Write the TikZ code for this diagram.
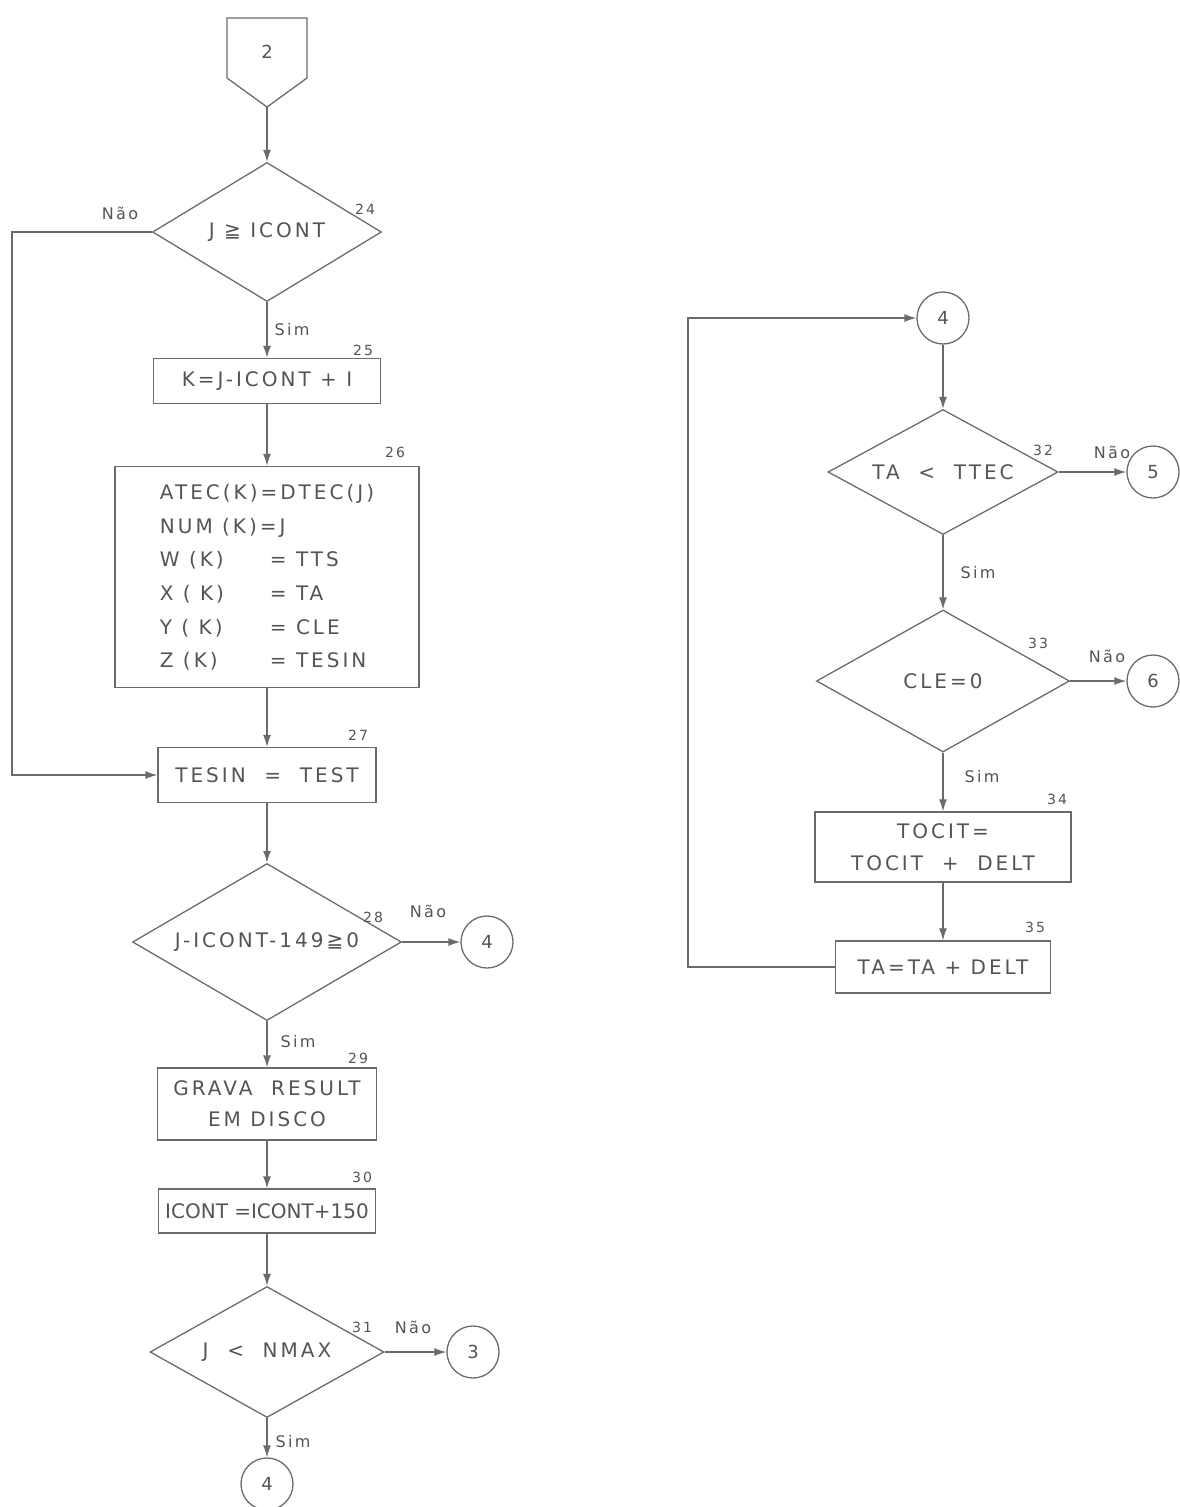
\documentclass[tikz,border=0pt]{standalone}
\usepackage{fontspec}
\setmainfont{DejaVu Sans}[LetterSpace=15]
\newfontfamily\tightfont{DejaVu Sans}
\usetikzlibrary{shapes.geometric,arrows.meta}
\definecolor{inkline}{gray}{0.42}
\definecolor{inktext}{gray}{0.33}

\tikzset{
  flow/.style={-{Latex[length=12pt,width=8pt]}},
  decision/.style={diamond, draw=inkline, aspect=1.7, inner sep=0pt, font=\fontsize{20}{24}\selectfont},
  process/.style={rectangle, draw=inkline, inner sep=0pt, font=\fontsize{20}{24}\selectfont},
  connector/.style={circle, draw=inkline, minimum size=52pt, inner sep=0pt, font=\fontsize{18}{20}\selectfont},
  stepno/.style={font=\fontsize{14}{16}\selectfont},
  answer/.style={font=\fontsize{16}{18}\selectfont}
}

\begin{document}
\begin{tikzpicture}[x=1pt, y=-1pt, line width=1.3pt, color=inkline, text=inktext]
    \useasboundingbox (0,0) rectangle (1179,1507);
    % Entry from page 2
    \draw (227,18) -- (307,18) -- (307,78) -- (267,107) -- (227,78) -- cycle;
    \node[font=\fontsize{18}{20}\selectfont] (con2) at (267,52) {2};
    \coordinate (con2tip) at (267,107);
    % Left column
    \node[decision, minimum width=229pt, minimum height=139pt] (d24) at (267,232) {J ≧ ICONT};
    \node[process, minimum width=227pt, minimum height=45pt] (b25) at (267,381) {K=J-ICONT + I};
    \node[process, minimum width=304pt, minimum height=221pt] (b26) at (267,577) {%
      \renewcommand{\arraystretch}{1.4}%
      \begin{tabular}{@{}p{110pt}@{}l@{}}
        \multicolumn{2}{@{}l@{}}{ATEC(K)=DTEC(J)}\\
        \multicolumn{2}{@{}l@{}}{NUM (K)=J}\\
        W (K) & = TTS\\
        X ( K) & = TA\\
        Y ( K) & = CLE\\
        Z (K) & = TESIN
      \end{tabular}};
    \node[process, minimum width=218pt, minimum height=55pt] (b27) at (267,775) {TESIN ~= ~TEST};
    \node[decision, minimum width=269pt, minimum height=157pt] (d28) at (267,942) {J-ICONT-149≧0};
    \node[process, minimum width=219pt, minimum height=72pt, align=center] (b29) at (267,1104) {GRAVA ~RESULT\\[7pt]EM DISCO};
    \node[process, minimum width=217pt, minimum height=44pt] (b30) at (267,1211) {\tightfont ICONT =ICONT+150};
    \node[decision, minimum width=234pt, minimum height=131pt] (d31) at (267,1352) {J ~<~ NMAX};
    \node[connector] (c4a) at (487,942) {4};
    \node[connector] (c3) at (473,1352) {3};
    \node[connector] (c4b) at (267,1484) {4};
    % Right column
    \node[connector] (c4r) at (943,318) {4};
    \node[decision, minimum width=230pt, minimum height=125pt] (d32) at (943,472) {TA ~<~ TTEC};
    \node[decision, minimum width=253pt, minimum height=142pt] (d33) at (943,681) {CLE=0};
    \node[process, minimum width=256pt, minimum height=70pt, align=center] (b34) at (943,847) {TOCIT=\\[8pt]TOCIT ~+~ DELT};
    \node[process, minimum width=215pt, minimum height=52pt] (b35) at (943,967) {TA=TA + DELT};
    \node[connector] (c5) at (1153,472) {5};
    \node[connector] (c6) at (1153,681) {6};
    % Step numbers
    \node[stepno] (n24) at (365,209) {24};
    \node[stepno] (n25) at (363,350) {25};
    \node[stepno] (n26) at (395,452) {26};
    \node[stepno] (n27) at (358,735) {27};
    \node[stepno] (n28) at (373,917) {28};
    \node[stepno] (n29) at (358,1058) {29};
    \node[stepno] (n30) at (362,1177) {30};
    \node[stepno] (n31) at (362,1327) {31};
    \node[stepno] (n32) at (1043,450) {32};
    \node[stepno] (n33) at (1038,643) {33};
    \node[stepno] (n34) at (1057,799) {34};
    \node[stepno] (n35) at (1035,927) {35};
    % Answers
    \node[answer] (no24) at (120,213) {Não};
    \node[answer] (yes24) at (292,330) {Sim};
    \node[answer] (no28) at (428,911) {Não};
    \node[answer] (yes28) at (298,1042) {Sim};
    \node[answer] (no31) at (413,1327) {Não};
    \node[answer] (yes31) at (293,1442) {Sim};
    \node[answer] (no32) at (1112,452) {Não};
    \node[answer] (yes32) at (978,573) {Sim};
    \node[answer] (no33) at (1107,656) {Não};
    \node[answer] (yes33) at (982,777) {Sim};
    % Connectors
    \draw[flow] (con2tip) -- (d24.north);
    \draw[flow] (d24.south) -- (b25.north);
    \draw[flow] (d24.west) -- ++(-140,0) |- (b27.west);
    \draw[flow] (b25.south) -- (b26.north);
    \draw[flow] (b26.south) -- (b27.north);
    \draw[flow] (b27.south) -- (d28.north);
    \draw[flow] (d28.east) -- (c4a.west);
    \draw[flow] (d28.south) -- (b29.north);
    \draw[flow] (b29.south) -- (b30.north);
    \draw[flow] (b30.south) -- (d31.north);
    \draw[flow] (d31.east) -- (c3.west);
    \draw[flow] (d31.south) -- (c4b.north);
    \draw[flow] (c4r.south) -- (d32.north);
    \draw[flow] (d32.east) -- (c5.west);
    \draw[flow] (d32.south) -- (d33.north);
    \draw[flow] (d33.east) -- (c6.west);
    \draw[flow] (d33.south) -- (b34.north);
    \draw[flow] (b34.south) -- (b35.north);
    \draw[flow] (b35.west) -- ++(-147,0) |- (c4r.west);
\end{tikzpicture}
\end{document}
